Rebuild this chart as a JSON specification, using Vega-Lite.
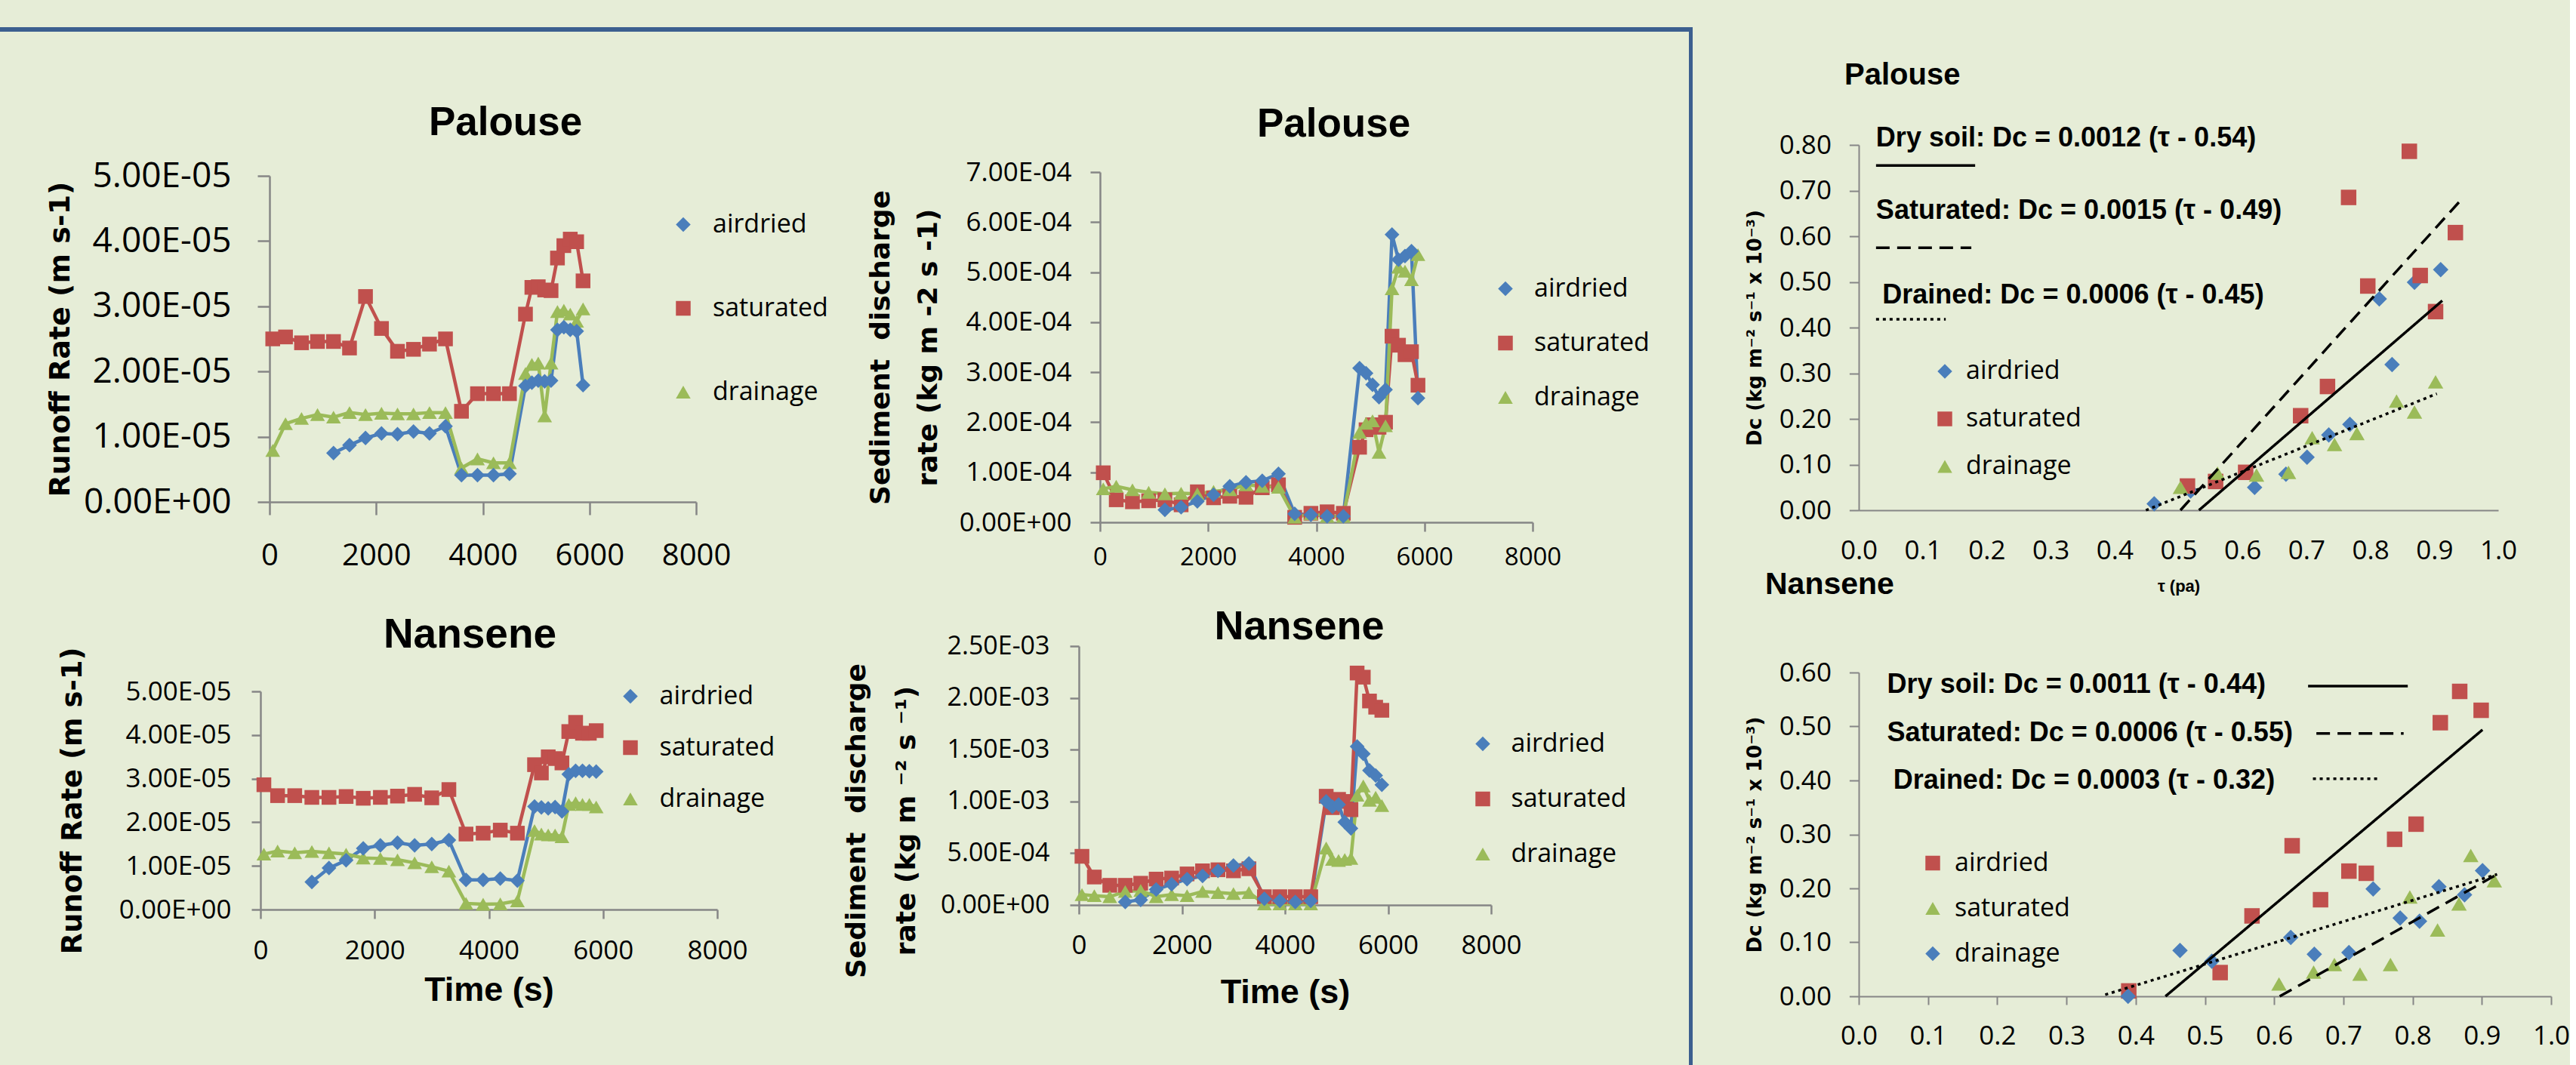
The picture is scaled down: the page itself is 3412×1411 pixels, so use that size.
{
"$schema":"https://vega.github.io/schema/vega-lite/v6.json",
"background":"#E6EDD7",
"padding":0,
"spacing":0,
"config":{
 "view":{"stroke":null},
 "font":"Liberation Sans",
 "title":{"font":"Liberation Sans","fontWeight":"bold","color":"#000000","anchor":"middle","frame":"group"},
 "axis":{"grid":false,"domainColor":"#868686","tickColor":"#868686","domainWidth":2.5,"tickWidth":2.5,"labelFont":"Open Sans","labelColor":"#000000","titleFont":"DejaVu Sans","titleFontWeight":"bold","titleColor":"#000000","labelFlush":false,"labelOverlap":false,"labelLimit":1000,"titleLimit":2000},
 "legend":{"labelFont":"Open Sans","labelColor":"#000000","labelFontSize":34,"symbolSize":380,"padding":0,"symbolOpacity":1,"symbolStrokeWidth":0,"labelLimit":1000}
},
"resolve":{"scale":{"fill":"independent","shape":"independent","strokeDash":"independent"}},
"datasets":{
 "p1":[
  {"t":60,"s":"saturated","v":2.50e-5},{"t":300,"s":"saturated","v":2.53e-5},{"t":600,"s":"saturated","v":2.44e-5},{"t":900,"s":"saturated","v":2.46e-5},{"t":1200,"s":"saturated","v":2.46e-5},{"t":1500,"s":"saturated","v":2.36e-5},{"t":1800,"s":"saturated","v":3.15e-5},{"t":2100,"s":"saturated","v":2.66e-5},{"t":2400,"s":"saturated","v":2.31e-5},{"t":2700,"s":"saturated","v":2.34e-5},{"t":3000,"s":"saturated","v":2.42e-5},{"t":3300,"s":"saturated","v":2.50e-5},{"t":3600,"s":"saturated","v":1.39e-5},{"t":3900,"s":"saturated","v":1.66e-5},{"t":4200,"s":"saturated","v":1.66e-5},{"t":4500,"s":"saturated","v":1.66e-5},{"t":4800,"s":"saturated","v":2.88e-5},{"t":4920,"s":"saturated","v":3.29e-5},{"t":5040,"s":"saturated","v":3.30e-5},{"t":5160,"s":"saturated","v":3.25e-5},{"t":5280,"s":"saturated","v":3.24e-5},{"t":5400,"s":"saturated","v":3.74e-5},{"t":5520,"s":"saturated","v":3.93e-5},{"t":5640,"s":"saturated","v":4.03e-5},{"t":5760,"s":"saturated","v":3.99e-5},{"t":5880,"s":"saturated","v":3.39e-5},
  {"t":60,"s":"drainage","v":0.79e-5},{"t":300,"s":"drainage","v":1.20e-5},{"t":600,"s":"drainage","v":1.28e-5},{"t":900,"s":"drainage","v":1.34e-5},{"t":1200,"s":"drainage","v":1.30e-5},{"t":1500,"s":"drainage","v":1.37e-5},{"t":1800,"s":"drainage","v":1.34e-5},{"t":2100,"s":"drainage","v":1.36e-5},{"t":2400,"s":"drainage","v":1.35e-5},{"t":2700,"s":"drainage","v":1.35e-5},{"t":3000,"s":"drainage","v":1.37e-5},{"t":3300,"s":"drainage","v":1.37e-5},{"t":3600,"s":"drainage","v":0.52e-5},{"t":3900,"s":"drainage","v":0.66e-5},{"t":4200,"s":"drainage","v":0.60e-5},{"t":4500,"s":"drainage","v":0.60e-5},{"t":4800,"s":"drainage","v":1.97e-5},{"t":4920,"s":"drainage","v":2.11e-5},{"t":5040,"s":"drainage","v":2.13e-5},{"t":5160,"s":"drainage","v":1.32e-5},{"t":5280,"s":"drainage","v":2.13e-5},{"t":5400,"s":"drainage","v":2.92e-5},{"t":5520,"s":"drainage","v":2.94e-5},{"t":5640,"s":"drainage","v":2.88e-5},{"t":5760,"s":"drainage","v":2.77e-5},{"t":5880,"s":"drainage","v":2.96e-5},
  {"t":1200,"s":"airdried","v":0.75e-5},{"t":1500,"s":"airdried","v":0.87e-5},{"t":1800,"s":"airdried","v":0.98e-5},{"t":2100,"s":"airdried","v":1.05e-5},{"t":2400,"s":"airdried","v":1.04e-5},{"t":2700,"s":"airdried","v":1.08e-5},{"t":3000,"s":"airdried","v":1.05e-5},{"t":3300,"s":"airdried","v":1.16e-5},{"t":3600,"s":"airdried","v":0.41e-5},{"t":3900,"s":"airdried","v":0.41e-5},{"t":4200,"s":"airdried","v":0.41e-5},{"t":4500,"s":"airdried","v":0.43e-5},{"t":4800,"s":"airdried","v":1.78e-5},{"t":4920,"s":"airdried","v":1.83e-5},{"t":5040,"s":"airdried","v":1.86e-5},{"t":5160,"s":"airdried","v":1.85e-5},{"t":5280,"s":"airdried","v":1.86e-5},{"t":5400,"s":"airdried","v":2.64e-5},{"t":5520,"s":"airdried","v":2.68e-5},{"t":5640,"s":"airdried","v":2.64e-5},{"t":5760,"s":"airdried","v":2.62e-5},{"t":5880,"s":"airdried","v":1.79e-5}
 ],
 "p2":[
  {"t":60,"s":"saturated","v":0.99e-4},{"t":300,"s":"saturated","v":0.45e-4},{"t":600,"s":"saturated","v":0.41e-4},{"t":900,"s":"saturated","v":0.43e-4},{"t":1200,"s":"saturated","v":0.45e-4},{"t":1500,"s":"saturated","v":0.35e-4},{"t":1800,"s":"saturated","v":0.61e-4},{"t":2100,"s":"saturated","v":0.49e-4},{"t":2400,"s":"saturated","v":0.52e-4},{"t":2700,"s":"saturated","v":0.50e-4},{"t":3000,"s":"saturated","v":0.69e-4},{"t":3300,"s":"saturated","v":0.75e-4},{"t":3600,"s":"saturated","v":0.10e-4},{"t":3900,"s":"saturated","v":0.18e-4},{"t":4200,"s":"saturated","v":0.21e-4},{"t":4500,"s":"saturated","v":0.18e-4},{"t":4800,"s":"saturated","v":1.50e-4},{"t":4920,"s":"saturated","v":1.85e-4},{"t":5040,"s":"saturated","v":1.95e-4},{"t":5160,"s":"saturated","v":1.90e-4},{"t":5280,"s":"saturated","v":2.00e-4},{"t":5400,"s":"saturated","v":3.72e-4},{"t":5520,"s":"saturated","v":3.54e-4},{"t":5640,"s":"saturated","v":3.35e-4},{"t":5760,"s":"saturated","v":3.41e-4},{"t":5880,"s":"saturated","v":2.74e-4},
  {"t":60,"s":"drainage","v":0.67e-4},{"t":300,"s":"drainage","v":0.72e-4},{"t":600,"s":"drainage","v":0.65e-4},{"t":900,"s":"drainage","v":0.60e-4},{"t":1200,"s":"drainage","v":0.57e-4},{"t":1500,"s":"drainage","v":0.58e-4},{"t":1800,"s":"drainage","v":0.57e-4},{"t":2100,"s":"drainage","v":0.62e-4},{"t":2400,"s":"drainage","v":0.65e-4},{"t":2700,"s":"drainage","v":0.75e-4},{"t":3000,"s":"drainage","v":0.72e-4},{"t":3300,"s":"drainage","v":0.70e-4},{"t":3600,"s":"drainage","v":0.10e-4},{"t":3900,"s":"drainage","v":0.17e-4},{"t":4200,"s":"drainage","v":0.12e-4},{"t":4500,"s":"drainage","v":0.12e-4},{"t":4800,"s":"drainage","v":1.80e-4},{"t":4920,"s":"drainage","v":1.98e-4},{"t":5040,"s":"drainage","v":2.03e-4},{"t":5160,"s":"drainage","v":1.40e-4},{"t":5280,"s":"drainage","v":1.93e-4},{"t":5400,"s":"drainage","v":4.67e-4},{"t":5520,"s":"drainage","v":5.10e-4},{"t":5640,"s":"drainage","v":5.02e-4},{"t":5760,"s":"drainage","v":4.85e-4},{"t":5880,"s":"drainage","v":5.35e-4},
  {"t":1200,"s":"airdried","v":0.25e-4},{"t":1500,"s":"airdried","v":0.30e-4},{"t":1800,"s":"airdried","v":0.42e-4},{"t":2100,"s":"airdried","v":0.55e-4},{"t":2400,"s":"airdried","v":0.72e-4},{"t":2700,"s":"airdried","v":0.80e-4},{"t":3000,"s":"airdried","v":0.83e-4},{"t":3300,"s":"airdried","v":0.97e-4},{"t":3600,"s":"airdried","v":0.17e-4},{"t":3900,"s":"airdried","v":0.15e-4},{"t":4200,"s":"airdried","v":0.12e-4},{"t":4500,"s":"airdried","v":0.12e-4},{"t":4800,"s":"airdried","v":3.08e-4},{"t":4920,"s":"airdried","v":2.98e-4},{"t":5040,"s":"airdried","v":2.75e-4},{"t":5160,"s":"airdried","v":2.50e-4},{"t":5280,"s":"airdried","v":2.65e-4},{"t":5400,"s":"airdried","v":5.75e-4},{"t":5520,"s":"airdried","v":5.25e-4},{"t":5640,"s":"airdried","v":5.32e-4},{"t":5760,"s":"airdried","v":5.42e-4},{"t":5880,"s":"airdried","v":2.48e-4}
 ],
 "p3":[
  {"t":60,"s":"saturated","v":2.86e-5},{"t":300,"s":"saturated","v":2.61e-5},{"t":600,"s":"saturated","v":2.61e-5},{"t":900,"s":"saturated","v":2.57e-5},{"t":1200,"s":"saturated","v":2.57e-5},{"t":1500,"s":"saturated","v":2.59e-5},{"t":1800,"s":"saturated","v":2.55e-5},{"t":2100,"s":"saturated","v":2.57e-5},{"t":2400,"s":"saturated","v":2.60e-5},{"t":2700,"s":"saturated","v":2.64e-5},{"t":3000,"s":"saturated","v":2.56e-5},{"t":3300,"s":"saturated","v":2.75e-5},{"t":3600,"s":"saturated","v":1.73e-5},{"t":3900,"s":"saturated","v":1.75e-5},{"t":4200,"s":"saturated","v":1.82e-5},{"t":4500,"s":"saturated","v":1.75e-5},{"t":4800,"s":"saturated","v":3.32e-5},{"t":4920,"s":"saturated","v":3.13e-5},{"t":5040,"s":"saturated","v":3.50e-5},{"t":5160,"s":"saturated","v":3.46e-5},{"t":5280,"s":"saturated","v":3.36e-5},{"t":5400,"s":"saturated","v":4.08e-5},{"t":5520,"s":"saturated","v":4.29e-5},{"t":5640,"s":"saturated","v":4.04e-5},{"t":5760,"s":"saturated","v":4.04e-5},{"t":5880,"s":"saturated","v":4.10e-5},
  {"t":60,"s":"drainage","v":1.27e-5},{"t":300,"s":"drainage","v":1.34e-5},{"t":600,"s":"drainage","v":1.30e-5},{"t":900,"s":"drainage","v":1.33e-5},{"t":1200,"s":"drainage","v":1.30e-5},{"t":1500,"s":"drainage","v":1.27e-5},{"t":1800,"s":"drainage","v":1.18e-5},{"t":2100,"s":"drainage","v":1.17e-5},{"t":2400,"s":"drainage","v":1.14e-5},{"t":2700,"s":"drainage","v":1.07e-5},{"t":3000,"s":"drainage","v":0.98e-5},{"t":3300,"s":"drainage","v":0.88e-5},{"t":3600,"s":"drainage","v":0.14e-5},{"t":3900,"s":"drainage","v":0.12e-5},{"t":4200,"s":"drainage","v":0.13e-5},{"t":4500,"s":"drainage","v":0.20e-5},{"t":4800,"s":"drainage","v":1.81e-5},{"t":4920,"s":"drainage","v":1.73e-5},{"t":5040,"s":"drainage","v":1.71e-5},{"t":5160,"s":"drainage","v":1.71e-5},{"t":5280,"s":"drainage","v":1.67e-5},{"t":5400,"s":"drainage","v":2.41e-5},{"t":5520,"s":"drainage","v":2.45e-5},{"t":5640,"s":"drainage","v":2.41e-5},{"t":5760,"s":"drainage","v":2.41e-5},{"t":5880,"s":"drainage","v":2.35e-5},
  {"t":900,"s":"airdried","v":0.63e-5},{"t":1200,"s":"airdried","v":0.95e-5},{"t":1500,"s":"airdried","v":1.13e-5},{"t":1800,"s":"airdried","v":1.40e-5},{"t":2100,"s":"airdried","v":1.47e-5},{"t":2400,"s":"airdried","v":1.53e-5},{"t":2700,"s":"airdried","v":1.47e-5},{"t":3000,"s":"airdried","v":1.50e-5},{"t":3300,"s":"airdried","v":1.59e-5},{"t":3600,"s":"airdried","v":0.68e-5},{"t":3900,"s":"airdried","v":0.68e-5},{"t":4200,"s":"airdried","v":0.71e-5},{"t":4500,"s":"airdried","v":0.66e-5},{"t":4800,"s":"airdried","v":2.36e-5},{"t":4920,"s":"airdried","v":2.34e-5},{"t":5040,"s":"airdried","v":2.32e-5},{"t":5160,"s":"airdried","v":2.35e-5},{"t":5280,"s":"airdried","v":2.25e-5},{"t":5400,"s":"airdried","v":3.10e-5},{"t":5520,"s":"airdried","v":3.18e-5},{"t":5640,"s":"airdried","v":3.18e-5},{"t":5760,"s":"airdried","v":3.17e-5},{"t":5880,"s":"airdried","v":3.16e-5}
 ],
 "p4":[
  {"t":60,"s":"saturated","v":0.47e-3},{"t":300,"s":"saturated","v":0.27e-3},{"t":600,"s":"saturated","v":0.19e-3},{"t":900,"s":"saturated","v":0.19e-3},{"t":1200,"s":"saturated","v":0.21e-3},{"t":1500,"s":"saturated","v":0.25e-3},{"t":1800,"s":"saturated","v":0.26e-3},{"t":2100,"s":"saturated","v":0.30e-3},{"t":2400,"s":"saturated","v":0.33e-3},{"t":2700,"s":"saturated","v":0.34e-3},{"t":3000,"s":"saturated","v":0.33e-3},{"t":3300,"s":"saturated","v":0.35e-3},{"t":3600,"s":"saturated","v":0.08e-3},{"t":3900,"s":"saturated","v":0.08e-3},{"t":4200,"s":"saturated","v":0.08e-3},{"t":4500,"s":"saturated","v":0.08e-3},{"t":4800,"s":"saturated","v":1.05e-3},{"t":4920,"s":"saturated","v":0.94e-3},{"t":5040,"s":"saturated","v":1.02e-3},{"t":5160,"s":"saturated","v":1.00e-3},{"t":5280,"s":"saturated","v":0.92e-3},{"t":5400,"s":"saturated","v":2.24e-3},{"t":5520,"s":"saturated","v":2.20e-3},{"t":5640,"s":"saturated","v":1.97e-3},{"t":5760,"s":"saturated","v":1.91e-3},{"t":5880,"s":"saturated","v":1.88e-3},
  {"t":60,"s":"drainage","v":0.10e-3},{"t":300,"s":"drainage","v":0.09e-3},{"t":600,"s":"drainage","v":0.08e-3},{"t":900,"s":"drainage","v":0.13e-3},{"t":1200,"s":"drainage","v":0.14e-3},{"t":1500,"s":"drainage","v":0.08e-3},{"t":1800,"s":"drainage","v":0.10e-3},{"t":2100,"s":"drainage","v":0.09e-3},{"t":2400,"s":"drainage","v":0.13e-3},{"t":2700,"s":"drainage","v":0.12e-3},{"t":3000,"s":"drainage","v":0.11e-3},{"t":3300,"s":"drainage","v":0.12e-3},{"t":3600,"s":"drainage","v":0.01e-3},{"t":3900,"s":"drainage","v":0.01e-3},{"t":4200,"s":"drainage","v":0.01e-3},{"t":4500,"s":"drainage","v":0.01e-3},{"t":4800,"s":"drainage","v":0.55e-3},{"t":4920,"s":"drainage","v":0.44e-3},{"t":5040,"s":"drainage","v":0.43e-3},{"t":5160,"s":"drainage","v":0.44e-3},{"t":5280,"s":"drainage","v":0.45e-3},{"t":5400,"s":"drainage","v":1.06e-3},{"t":5520,"s":"drainage","v":1.15e-3},{"t":5640,"s":"drainage","v":1.01e-3},{"t":5760,"s":"drainage","v":1.04e-3},{"t":5880,"s":"drainage","v":0.96e-3},
  {"t":900,"s":"airdried","v":0.03e-3},{"t":1200,"s":"airdried","v":0.05e-3},{"t":1500,"s":"airdried","v":0.15e-3},{"t":1800,"s":"airdried","v":0.20e-3},{"t":2100,"s":"airdried","v":0.25e-3},{"t":2400,"s":"airdried","v":0.28e-3},{"t":2700,"s":"airdried","v":0.33e-3},{"t":3000,"s":"airdried","v":0.38e-3},{"t":3300,"s":"airdried","v":0.40e-3},{"t":3600,"s":"airdried","v":0.06e-3},{"t":3900,"s":"airdried","v":0.04e-3},{"t":4200,"s":"airdried","v":0.03e-3},{"t":4500,"s":"airdried","v":0.04e-3},{"t":4800,"s":"airdried","v":1.00e-3},{"t":4920,"s":"airdried","v":0.95e-3},{"t":5040,"s":"airdried","v":0.97e-3},{"t":5160,"s":"airdried","v":0.80e-3},{"t":5280,"s":"airdried","v":0.74e-3},{"t":5400,"s":"airdried","v":1.53e-3},{"t":5520,"s":"airdried","v":1.46e-3},{"t":5640,"s":"airdried","v":1.30e-3},{"t":5760,"s":"airdried","v":1.25e-3},{"t":5880,"s":"airdried","v":1.16e-3}
 ],
 "p5":[
  {"s":"airdried","tau":0.462,"dc":0.014},{"s":"airdried","tau":0.519,"dc":0.042},{"s":"airdried","tau":0.619,"dc":0.050},{"s":"airdried","tau":0.668,"dc":0.079},{"s":"airdried","tau":0.701,"dc":0.116},{"s":"airdried","tau":0.735,"dc":0.165},{"s":"airdried","tau":0.768,"dc":0.188},{"s":"airdried","tau":0.814,"dc":0.463},{"s":"airdried","tau":0.834,"dc":0.319},{"s":"airdried","tau":0.869,"dc":0.499},{"s":"airdried","tau":0.910,"dc":0.527},
  {"s":"saturated","tau":0.514,"dc":0.053},{"s":"saturated","tau":0.558,"dc":0.063},{"s":"saturated","tau":0.605,"dc":0.083},{"s":"saturated","tau":0.691,"dc":0.207},{"s":"saturated","tau":0.733,"dc":0.271},{"s":"saturated","tau":0.766,"dc":0.685},{"s":"saturated","tau":0.796,"dc":0.491},{"s":"saturated","tau":0.861,"dc":0.786},{"s":"saturated","tau":0.878,"dc":0.514},{"s":"saturated","tau":0.902,"dc":0.435},{"s":"saturated","tau":0.933,"dc":0.608},
  {"s":"drainage","tau":0.503,"dc":0.050},{"s":"drainage","tau":0.561,"dc":0.081},{"s":"drainage","tau":0.622,"dc":0.077},{"s":"drainage","tau":0.672,"dc":0.083},{"s":"drainage","tau":0.709,"dc":0.159},{"s":"drainage","tau":0.744,"dc":0.144},{"s":"drainage","tau":0.779,"dc":0.168},{"s":"drainage","tau":0.841,"dc":0.239},{"s":"drainage","tau":0.869,"dc":0.215},{"s":"drainage","tau":0.902,"dc":0.281}
 ],
 "f5":[
  {"g":"dry","fit":"dry","tau":0.532,"dc":0},{"g":"dry","fit":"dry","tau":0.9125,"dc":0.459},
  {"g":"sat","fit":"saturated","tau":0.503,"dc":0},{"g":"sat","fit":"saturated","tau":0.946,"dc":0.686},
  {"g":"drn","fit":"drained","tau":0.449,"dc":0},{"g":"drn","fit":"drained","tau":0.904,"dc":0.255},
  {"g":"dryk","fit":"dry","tau":0.027,"dc":0.755},{"g":"dryk","fit":"dry","tau":0.182,"dc":0.755},
  {"g":"satk","fit":"saturated","tau":0.027,"dc":0.575},{"g":"satk","fit":"saturated","tau":0.176,"dc":0.575},
  {"g":"drnk","fit":"drained","tau":0.027,"dc":0.418},{"g":"drnk","fit":"drained","tau":0.136,"dc":0.418}
 ],
 "e5":[
  {"label":"Dry soil: Dc = 0.0012 (τ - 0.54)","tau":0.027,"dc":0.815},
  {"label":"Saturated: Dc = 0.0015 (τ - 0.49)","tau":0.027,"dc":0.656},
  {"label":"Drained: Dc = 0.0006 (τ - 0.45)","tau":0.037,"dc":0.471}
 ],
 "p6":[
  {"s":"airdried","tau":0.390,"dc":0.010},{"s":"airdried","tau":0.522,"dc":0.044},{"s":"airdried","tau":0.568,"dc":0.149},{"s":"airdried","tau":0.626,"dc":0.279},{"s":"airdried","tau":0.667,"dc":0.179},{"s":"airdried","tau":0.708,"dc":0.232},{"s":"airdried","tau":0.733,"dc":0.228},{"s":"airdried","tau":0.774,"dc":0.291},{"s":"airdried","tau":0.805,"dc":0.319},{"s":"airdried","tau":0.840,"dc":0.507},{"s":"airdried","tau":0.868,"dc":0.565},{"s":"airdried","tau":0.899,"dc":0.530},
  {"s":"saturated","tau":0.607,"dc":0.023},{"s":"saturated","tau":0.657,"dc":0.045},{"s":"saturated","tau":0.687,"dc":0.059},{"s":"saturated","tau":0.724,"dc":0.041},{"s":"saturated","tau":0.768,"dc":0.059},{"s":"saturated","tau":0.796,"dc":0.184},{"s":"saturated","tau":0.836,"dc":0.123},{"s":"saturated","tau":0.867,"dc":0.171},{"s":"saturated","tau":0.884,"dc":0.261},{"s":"saturated","tau":0.918,"dc":0.214},
  {"s":"drainage","tau":0.389,"dc":0.000},{"s":"drainage","tau":0.464,"dc":0.085},{"s":"drainage","tau":0.510,"dc":0.065},{"s":"drainage","tau":0.624,"dc":0.109},{"s":"drainage","tau":0.658,"dc":0.078},{"s":"drainage","tau":0.708,"dc":0.081},{"s":"drainage","tau":0.743,"dc":0.199},{"s":"drainage","tau":0.782,"dc":0.145},{"s":"drainage","tau":0.810,"dc":0.139},{"s":"drainage","tau":0.838,"dc":0.203},{"s":"drainage","tau":0.875,"dc":0.188},{"s":"drainage","tau":0.901,"dc":0.233}
 ],
 "f6":[
  {"g":"dry","fit":"dry","tau":0.443,"dc":0},{"g":"dry","fit":"dry","tau":0.901,"dc":0.494},
  {"g":"sat","fit":"saturated","tau":0.608,"dc":0},{"g":"sat","fit":"saturated","tau":0.922,"dc":0.226},
  {"g":"drn","fit":"drained","tau":0.356,"dc":0.003},{"g":"drn","fit":"drained","tau":0.922,"dc":0.226},
  {"g":"dryk","fit":"dry","tau":0.649,"dc":0.575},{"g":"dryk","fit":"dry","tau":0.793,"dc":0.575},
  {"g":"satk","fit":"saturated","tau":0.661,"dc":0.487},{"g":"satk","fit":"saturated","tau":0.787,"dc":0.487},
  {"g":"drnk","fit":"drained","tau":0.656,"dc":0.403},{"g":"drnk","fit":"drained","tau":0.751,"dc":0.403}
 ],
 "e6":[
  {"label":"Dry soil: Dc = 0.0011 (τ - 0.44)","tau":0.041,"dc":0.578},
  {"label":"Saturated: Dc = 0.0006 (τ - 0.55)","tau":0.041,"dc":0.488},
  {"label":"Drained: Dc = 0.0003 (τ - 0.32)","tau":0.050,"dc":0.400}
 ]
},
"hconcat":[
 {"spacing":0,"resolve":{"scale":{"fill":"independent","shape":"independent"}},"vconcat":[
  {"width":2237,"height":36,"data":{"values":[]},"mark":{"type":"point","opacity":0},"encoding":{}},
  {"width":2237,"height":6,"data":{"values":[]},"mark":{"type":"point","opacity":0},"encoding":{},"view":{"fill":"#3C5F8F","stroke":null}},
  {"spacing":0,"resolve":{"scale":{"fill":"independent","shape":"independent"}},"hconcat":[
   {"width":61,"height":1,"data":{"values":[]},"mark":{"type":"point","opacity":0},"encoding":{}},
   {"spacing":0,"resolve":{"scale":{"fill":"independent","shape":"independent"}},"vconcat":[
    {"width":1,"height":95,"data":{"values":[]},"mark":{"type":"point","opacity":0},"encoding":{}},
    {"width":565,"height":432,
     "title":{"text":"Palouse","fontSize":53,"offset":20,"dx":30},
     "data":{"name":"p1"},
     "encoding":{
      "x":{"field":"t","type":"quantitative","scale":{"domain":[0,8000],"nice":false},"axis":{"values":[0,2000,4000,6000,8000],"format":"d","title":null,"tickSize":17,"labelPadding":34,"labelFontSize":40}},
      "y":{"field":"v","type":"quantitative","scale":{"domain":[0,5e-5],"nice":false},"axis":{"values":[0,1e-5,2e-5,3e-5,4e-5,5e-5],"labelExpr":"replace(replace(format(datum.value, '.2e'), 'e-', 'E-0'), 'e+', 'E+0')","tickSize":16,"labelPadding":35,"labelFontSize":46,"title":"Runoff Rate (m s-1)","titleFontSize":38,"titlePadding":58}}
     },
     "layer":[
      {"transform":[{"filter":"datum.s === 'airdried'"}],"mark":{"type":"line","strokeWidth":4.5,"color":"#4A7EBB"}},
      {"transform":[{"filter":"datum.s === 'saturated'"}],"mark":{"type":"line","strokeWidth":4.5,"color":"#C0504D"}},
      {"transform":[{"filter":"datum.s === 'drainage'"}],"mark":{"type":"line","strokeWidth":4.5,"color":"#9BBB59"}},
      {"mark":{"type":"point","filled":true,"size":380,"opacity":1},"encoding":{
        "fill":{"field":"s","type":"nominal","scale":{"domain":["airdried","saturated","drainage"],"range":["#4A7EBB","#C0504D","#9BBB59"]},"legend":{"title":null,"orient":"none","legendX":531,"legendY":47.5,"rowPadding":77,"labelOffset":22}},
        "shape":{"field":"s","type":"nominal","scale":{"domain":["airdried","saturated","drainage"],"range":["diamond","square","triangle-up"]},"legend":{"title":null,"orient":"none","legendX":531,"legendY":47.5,"rowPadding":77,"labelOffset":22}}}}
     ]}
   ]},
   {"width":51,"height":1,"data":{"values":[]},"mark":{"type":"point","opacity":0},"encoding":{}},
   {"spacing":0,"resolve":{"scale":{"fill":"independent","shape":"independent"}},"vconcat":[
    {"width":1,"height":97,"data":{"values":[]},"mark":{"type":"point","opacity":0},"encoding":{}},
    {"width":573,"height":464,
     "title":{"text":"Palouse","fontSize":53,"offset":19,"dx":23},
     "data":{"name":"p2"},
     "encoding":{
      "x":{"field":"t","type":"quantitative","scale":{"domain":[0,8000],"nice":false},"axis":{"values":[0,2000,4000,6000,8000],"format":"d","title":null,"tickSize":12,"labelPadding":18,"labelFontSize":33}},
      "y":{"field":"v","type":"quantitative","scale":{"domain":[0,7e-4],"nice":false},"axis":{"values":[0,1e-4,2e-4,3e-4,4e-4,5e-4,6e-4,7e-4],"labelExpr":"replace(replace(format(datum.value, '.2e'), 'e-', 'E-0'), 'e+', 'E+0')","tickSize":13,"labelPadding":25,"labelFontSize":35,"title":["Sediment\u00a0\u00a0discharge","rate (kg m -2 s -1)"],"titleFontSize":36,"titleLineHeight":63,"titlePadding":22}}
     },
     "layer":[
      {"transform":[{"filter":"datum.s === 'airdried'"}],"mark":{"type":"line","strokeWidth":4.5,"color":"#4A7EBB"}},
      {"transform":[{"filter":"datum.s === 'saturated'"}],"mark":{"type":"line","strokeWidth":4.5,"color":"#C0504D"}},
      {"transform":[{"filter":"datum.s === 'drainage'"}],"mark":{"type":"line","strokeWidth":4.5,"color":"#9BBB59"}},
      {"mark":{"type":"point","filled":true,"size":380,"opacity":1},"encoding":{
        "fill":{"field":"s","type":"nominal","scale":{"domain":["airdried","saturated","drainage"],"range":["#4A7EBB","#C0504D","#9BBB59"]},"legend":{"title":null,"orient":"none","legendX":520,"legendY":137.5,"rowPadding":38,"labelOffset":21}},
        "shape":{"field":"s","type":"nominal","scale":{"domain":["airdried","saturated","drainage"],"range":["diamond","square","triangle-up"]},"legend":{"title":null,"orient":"none","legendX":520,"legendY":137.5,"rowPadding":38,"labelOffset":21}}}}
     ]}
   ]}
  ]},
  {"spacing":0,"resolve":{"scale":{"fill":"independent","shape":"independent"}},"hconcat":[
   {"width":77,"height":1,"data":{"values":[]},"mark":{"type":"point","opacity":0},"encoding":{}},
   {"spacing":0,"resolve":{"scale":{"fill":"independent","shape":"independent"}},"vconcat":[
    {"width":1,"height":57,"data":{"values":[]},"mark":{"type":"point","opacity":0},"encoding":{}},
    {"width":605,"height":289,
     "title":{"text":"Nansene","fontSize":55,"offset":-12.5,"dx":-25},
     "data":{"name":"p3"},
     "encoding":{
      "x":{"field":"t","type":"quantitative","scale":{"domain":[0,8000],"nice":false},"axis":{"values":[0,2000,4000,6000,8000],"format":"d","title":"Time (s)","titleFont":"Liberation Sans","titleFontSize":45,"titlePadding":12,"tickSize":12,"labelPadding":25,"labelFontSize":35}},
      "y":{"field":"v","type":"quantitative","scale":{"domain":[0,5e-5],"nice":false},"axis":{"values":[0,1e-5,2e-5,3e-5,4e-5,5e-5],"labelExpr":"replace(replace(format(datum.value, '.2e'), 'e-', 'E-0'), 'e+', 'E+0')","tickSize":12,"labelPadding":27,"labelFontSize":35,"title":"Runoff Rate (m s-1)","titleFontSize":37,"titlePadding":42}}
     },
     "layer":[
      {"transform":[{"filter":"datum.s === 'airdried'"}],"mark":{"type":"line","strokeWidth":4.5,"color":"#4A7EBB"}},
      {"transform":[{"filter":"datum.s === 'saturated'"}],"mark":{"type":"line","strokeWidth":4.5,"color":"#C0504D"}},
      {"transform":[{"filter":"datum.s === 'drainage'"}],"mark":{"type":"line","strokeWidth":4.5,"color":"#9BBB59"}},
      {"mark":{"type":"point","filled":true,"size":380,"opacity":1},"encoding":{
        "fill":{"field":"s","type":"nominal","scale":{"domain":["airdried","saturated","drainage"],"range":["#4A7EBB","#C0504D","#9BBB59"]},"legend":{"title":null,"orient":"none","legendX":473,"legendY":-10.5,"rowPadding":34,"labelOffset":21.5}},
        "shape":{"field":"s","type":"nominal","scale":{"domain":["airdried","saturated","drainage"],"range":["diamond","square","triangle-up"]},"legend":{"title":null,"orient":"none","legendX":473,"legendY":-10.5,"rowPadding":34,"labelOffset":21.5}}}}
     ]}
   ]},
   {"width":89,"height":1,"data":{"values":[]},"mark":{"type":"point","opacity":0},"encoding":{}},
   {"spacing":0,"resolve":{"scale":{"fill":"independent","shape":"independent"}},"vconcat":[
    {"width":1,"height":47,"data":{"values":[]},"mark":{"type":"point","opacity":0},"encoding":{}},
    {"width":546,"height":343,
     "title":{"text":"Nansene","fontSize":54,"offset":-18.7,"dx":19},
     "data":{"name":"p4"},
     "encoding":{
      "x":{"field":"t","type":"quantitative","scale":{"domain":[0,8000],"nice":false},"axis":{"values":[0,2000,4000,6000,8000],"format":"d","title":"Time (s)","titleFont":"Liberation Sans","titleFontSize":45,"titlePadding":22,"tickSize":12,"labelPadding":24,"labelFontSize":35}},
      "y":{"field":"v","type":"quantitative","scale":{"domain":[0,2.5e-3],"nice":false},"axis":{"values":[0,5e-4,1e-3,1.5e-3,2e-3,2.5e-3],"labelExpr":"replace(replace(format(datum.value, '.2e'), 'e-', 'E-0'), 'e+', 'E+0')","tickSize":12,"labelPadding":27,"labelFontSize":34,"title":["Sediment\u00a0\u00a0discharge","rate (kg m ⁻² s ⁻¹)"],"titleFontSize":36,"titleLineHeight":66,"titlePadding":26,"titleY":231}}
     },
     "layer":[
      {"transform":[{"filter":"datum.s === 'airdried'"}],"mark":{"type":"line","strokeWidth":4.5,"color":"#4A7EBB"}},
      {"transform":[{"filter":"datum.s === 'saturated'"}],"mark":{"type":"line","strokeWidth":4.5,"color":"#C0504D"}},
      {"transform":[{"filter":"datum.s === 'drainage'"}],"mark":{"type":"line","strokeWidth":4.5,"color":"#9BBB59"}},
      {"mark":{"type":"point","filled":true,"size":380,"opacity":1},"encoding":{
        "fill":{"field":"s","type":"nominal","scale":{"domain":["airdried","saturated","drainage"],"range":["#4A7EBB","#C0504D","#9BBB59"]},"legend":{"title":null,"orient":"none","legendX":518,"legendY":112.5,"rowPadding":39,"labelOffset":20.5}},
        "shape":{"field":"s","type":"nominal","scale":{"domain":["airdried","saturated","drainage"],"range":["diamond","square","triangle-up"]},"legend":{"title":null,"orient":"none","legendX":518,"legendY":112.5,"rowPadding":39,"labelOffset":20.5}}}}
     ]}
   ]}
  ]}
 ]},
 {"spacing":0,"vconcat":[
  {"width":5,"height":36,"data":{"values":[]},"mark":{"type":"point","opacity":0},"encoding":{}},
  {"width":5,"height":1375,"data":{"values":[]},"mark":{"type":"point","opacity":0},"encoding":{},"view":{"fill":"#3C5F8F","stroke":null}}
 ]},
 {"width":69,"height":1,"data":{"values":[]},"mark":{"type":"point","opacity":0},"encoding":{}},
 {"spacing":-33,"resolve":{"scale":{"fill":"independent","shape":"independent","strokeDash":"independent"}},"vconcat":[
  {"width":1,"height":112,"data":{"values":[]},"mark":{"type":"point","opacity":0},"encoding":{}},
  {"width":847,"height":484,
   "title":{"text":"Palouse","fontSize":40,"offset":45,"anchor":"start","dx":-19},
   "encoding":{
    "x":{"field":"tau","type":"quantitative","scale":{"domain":[0,1],"nice":false},"axis":{"values":[0,0.1,0.2,0.3,0.4,0.5,0.6,0.7,0.8,0.9,1],"format":".1f","ticks":false,"tickSize":0,"labelPadding":36,"labelFontSize":35,"title":"τ (pa)","titleFont":"Liberation Sans","titleFontSize":22,"titlePadding":19,"domainWidth":2}},
    "y":{"field":"dc","type":"quantitative","scale":{"domain":[0,0.8],"nice":false},"axis":{"values":[0,0.1,0.2,0.3,0.4,0.5,0.6,0.7,0.8],"format":".2f","tickSize":12.6,"labelPadding":24,"labelFontSize":35,"title":"Dc (kg m⁻² s⁻¹ x 10⁻³)","titleFontSize":26,"titlePadding":19,"domainWidth":2,"tickWidth":2}}
   },
   "layer":[
    {"data":{"name":"p5"},"mark":{"type":"point","filled":true,"size":420,"opacity":1},"encoding":{
      "fill":{"field":"s","type":"nominal","scale":{"domain":["airdried","saturated","drainage"],"range":["#4A7EBB","#C0504D","#9BBB59"]},"legend":{"title":null,"orient":"none","legendX":97,"legendY":283,"rowPadding":29,"labelOffset":11}},
      "shape":{"field":"s","type":"nominal","scale":{"domain":["airdried","saturated","drainage"],"range":["diamond","square","triangle-up"]},"legend":{"title":null,"orient":"none","legendX":97,"legendY":283,"rowPadding":29,"labelOffset":11}}}},
    {"data":{"name":"f5"},"mark":{"type":"line","color":"#000000","strokeWidth":3.5},"encoding":{"detail":{"field":"g","type":"nominal"},"strokeDash":{"field":"fit","type":"nominal","scale":{"domain":["dry","saturated","drained"],"range":[[1,0],[18,10],[4,5]]},"legend":null}}},
    {"data":{"name":"e5"},"mark":{"type":"text","align":"left","baseline":"middle","fontSize":36,"fontWeight":"bold","font":"Liberation Sans","color":"#000000"},"encoding":{"text":{"field":"label","type":"nominal"}}}
   ]},
  {"width":917,"height":429,
   "title":{"text":"Nansene","fontSize":41,"offset":78,"anchor":"start","dx":-124},
   "encoding":{
    "x":{"field":"tau","type":"quantitative","scale":{"domain":[0,1],"nice":false},"axis":{"values":[0,0.1,0.2,0.3,0.4,0.5,0.6,0.7,0.8,0.9,1],"format":".1f","tickSize":11,"labelPadding":24.5,"labelFontSize":35,"title":null,"domainWidth":2,"tickWidth":2}},
    "y":{"field":"dc","type":"quantitative","scale":{"domain":[0,0.6],"nice":false},"axis":{"values":[0,0.1,0.2,0.3,0.4,0.5,0.6],"format":".2f","tickSize":12.6,"labelPadding":24,"labelFontSize":35,"title":"Dc (kg m⁻² s⁻¹ x 10⁻³)","titleFontSize":26,"titlePadding":19,"domainWidth":2,"tickWidth":2}}
   },
   "layer":[
    {"data":{"name":"p6"},"mark":{"type":"point","filled":true,"size":420,"opacity":1},"encoding":{
      "fill":{"field":"s","type":"nominal","scale":{"domain":["airdried","saturated","drainage"],"range":["#C0504D","#9BBB59","#4A7EBB"]},"legend":{"title":null,"orient":"none","legendX":81,"legendY":235.5,"rowPadding":26,"labelOffset":12}},
      "shape":{"field":"s","type":"nominal","scale":{"domain":["airdried","saturated","drainage"],"range":["square","triangle-up","diamond"]},"legend":{"title":null,"orient":"none","legendX":81,"legendY":235.5,"rowPadding":26,"labelOffset":12}}}},
    {"data":{"name":"f6"},"mark":{"type":"line","color":"#000000","strokeWidth":3.5},"encoding":{"detail":{"field":"g","type":"nominal"},"strokeDash":{"field":"fit","type":"nominal","scale":{"domain":["dry","saturated","drained"],"range":[[1,0],[18,10],[4,5]]},"legend":null}}},
    {"data":{"name":"e6"},"mark":{"type":"text","align":"left","baseline":"middle","fontSize":36,"fontWeight":"bold","font":"Liberation Sans","color":"#000000"},"encoding":{"text":{"field":"label","type":"nominal"}}}
   ]}
 ]}
]
}
